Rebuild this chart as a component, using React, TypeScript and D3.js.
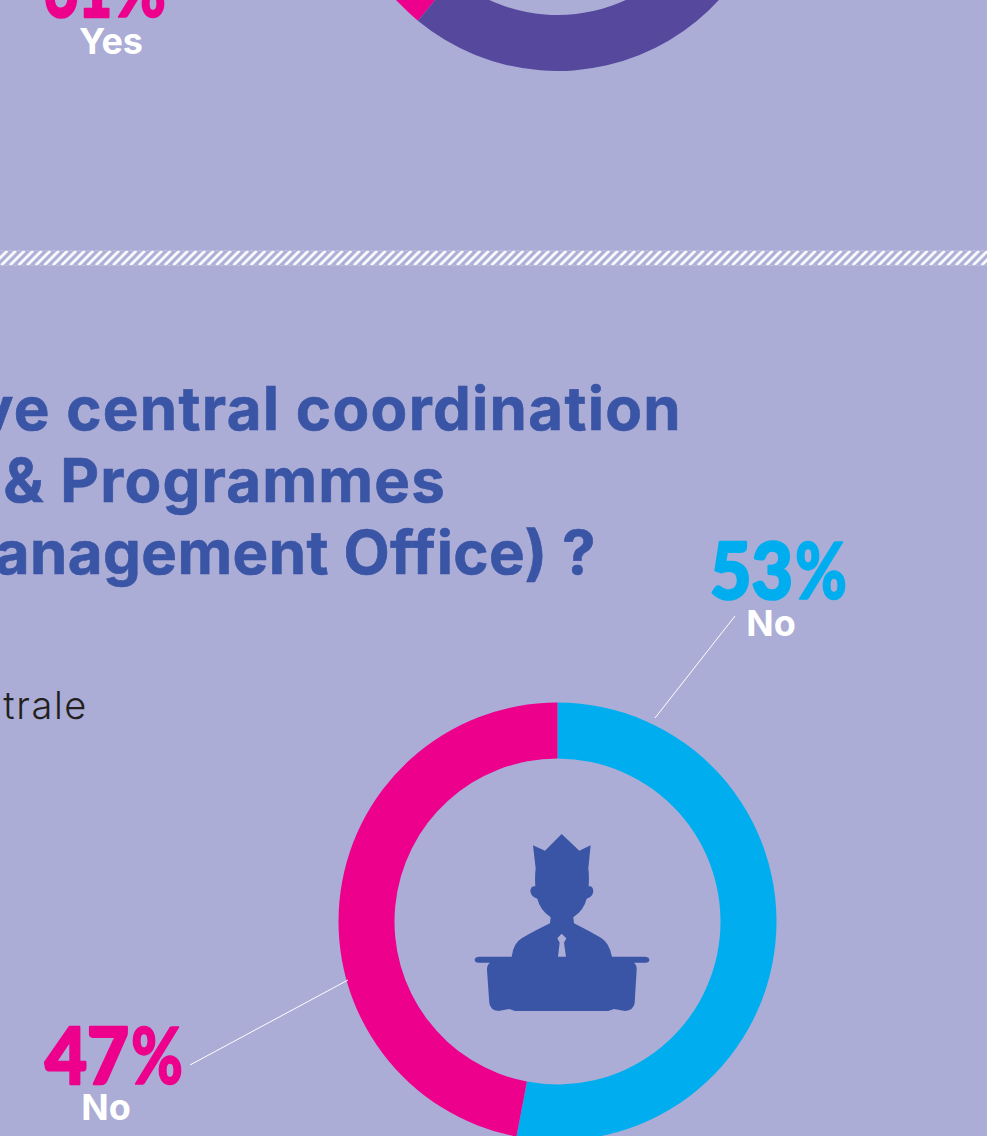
import React from "react";
import * as d3 from "d3";

const W = 987, H = 1136;
const topLabels = ["Yes", "No"];
const topValues = [61, 39];
const bottomLabels = ["No", "No"];
const bottomValues = [53, 47];
const titleLines = ["Do you have central coordination", "of Projects & Programmes", "(Project Management Office) ?"];

const BG = "#ABADD6", BLUE = "#3A55A5", PINK = "#EC008C", CYAN = "#00AEEF", PURPLE = "#55489D";
const FONT = "Inter, 'Noto Sans', sans-serif";
const OUTER = 219, INNER = 163, CX = 557.5;

const arc = d3.arc<any>().innerRadius(INNER).outerRadius(OUTER);
const tau = Math.PI * 2;
const bottomPie = d3.pie<number>().sort(null)(bottomValues);
const topPie = d3.pie<number>().sort(null).startAngle(0.61 * tau).endAngle(1.61 * tau)(topValues);

const ICON = "M305,42 L358,92 L392,76 L385,145 Q388,172 386,199 Q399,197 400,214 Q398,232 380,236 Q372,270 340,292 L342,310 Q395,337 425,355 Q448,370 456,410 L556,410 Q568,412 568,419 Q568,428 556,428 L522,428 Q531,435 530,450 L524,550 Q520,572 495,573 L462,567 L445,573 L165,573 L148,567 L115,573 Q92,572 88,550 L81,450 Q80,435 90,428 L56,428 Q44,428 44,419 Q44,412 56,410 L155,410 Q160,370 185,355 Q215,337 270,310 L272,292 Q240,270 232,236 Q214,232 211,214 Q212,197 226,199 Q224,172 227,145 L219,76 L255,92 Z M305,341 L292,355 L299,368 L294,410 L318,410 L312,368 L319,355 Z";

function Pct({ x, y, w, v, fill }: { x: number; y: number; w: number; v: number; fill: string }) {
  const pctW = 53;
  return (
    <g fontFamily="Lato, Inter, sans-serif" fontWeight={900} fontSize={79} fill={fill} stroke={fill} strokeWidth={2.6} strokeLinejoin="round">
      <text x={x + 1} y={y - 1} textLength={w - pctW - 3} lengthAdjust="spacingAndGlyphs">{v}</text>
      <text x={x + w - pctW} y={y - 1} textLength={pctW - 1} lengthAdjust="spacingAndGlyphs" strokeWidth={1.6}>%</text>
    </g>
  );
}

export default function App() {
  return (
    <svg width={W} height={H} viewBox={`0 0 ${W} ${H}`} style={{ position: "absolute", left: 0, top: 0, display: "block" }} fontFamily={FONT}>
      <defs>
        <pattern id="hatch" width={8.6} height={15} patternUnits="userSpaceOnUse" patternTransform="translate(0 250.5)">
          <path d="M-7.5,15 L7.5,0 M1.1,15 L16.1,0" stroke="#fff" strokeWidth={2.7} fill="none" />
        </pattern>
      </defs>
      <rect width={W} height={H} fill={BG} />
      <g transform={`translate(${CX},-148)`}>
        {topPie.map((d, i) => <path key={i} d={arc(d) as string} fill={i === 0 ? PINK : PURPLE} />)}
      </g>
      <Pct x={43} y={18} w={124} v={topValues[0]} fill={PINK} />
      <text x={111} y={54} textAnchor="middle" fontSize={36} fontWeight={700} fill="#fff">{topLabels[0]}</text>
      <rect x={0} y={250.5} width={W} height={15} fill="url(#hatch)" />
      <g fill={BLUE} stroke={BLUE} strokeWidth={0.6} fontSize={60} fontWeight={700}>
        <text x={682} y={430} textAnchor="end" letterSpacing={1.3}>{titleLines[0]}</text>
        <text x={446} y={502} textAnchor="end" letterSpacing={1.2}>{titleLines[1]}</text>
        <text x={596} y={574} textAnchor="end" letterSpacing={0.4}>{titleLines[2]}</text>
      </g>
      <text x={88} y={719} textAnchor="end" fontSize={38} fontWeight={300} letterSpacing={1.6} fill="#231F20">trale</text>
      <g transform={`translate(${CX},921.5)`}>
        {bottomPie.map((d, i) => <path key={i} d={arc(d) as string} fill={i === 0 ? CYAN : PINK} />)}
      </g>
      <path d={ICON} transform="translate(460,820) scale(0.3333)" fill={BLUE} fillRule="evenodd" />
      <line x1={735} y1={616} x2={655} y2={718} stroke="#fff" strokeWidth={1} />
      <line x1={190} y1={1065} x2={348} y2={980} stroke="#fff" strokeWidth={1} />
      <Pct x={709} y={600} w={139} v={bottomValues[0]} fill={CYAN} />
      <text x={771} y={636} textAnchor="middle" fontSize={36} fontWeight={700} fill="#fff">{bottomLabels[0]}</text>
      <Pct x={44} y={1085} w={140} v={bottomValues[1]} fill={PINK} />
      <text x={106} y={1120} textAnchor="middle" fontSize={36} fontWeight={700} fill="#fff">{bottomLabels[1]}</text>
    </svg>
  );
}
